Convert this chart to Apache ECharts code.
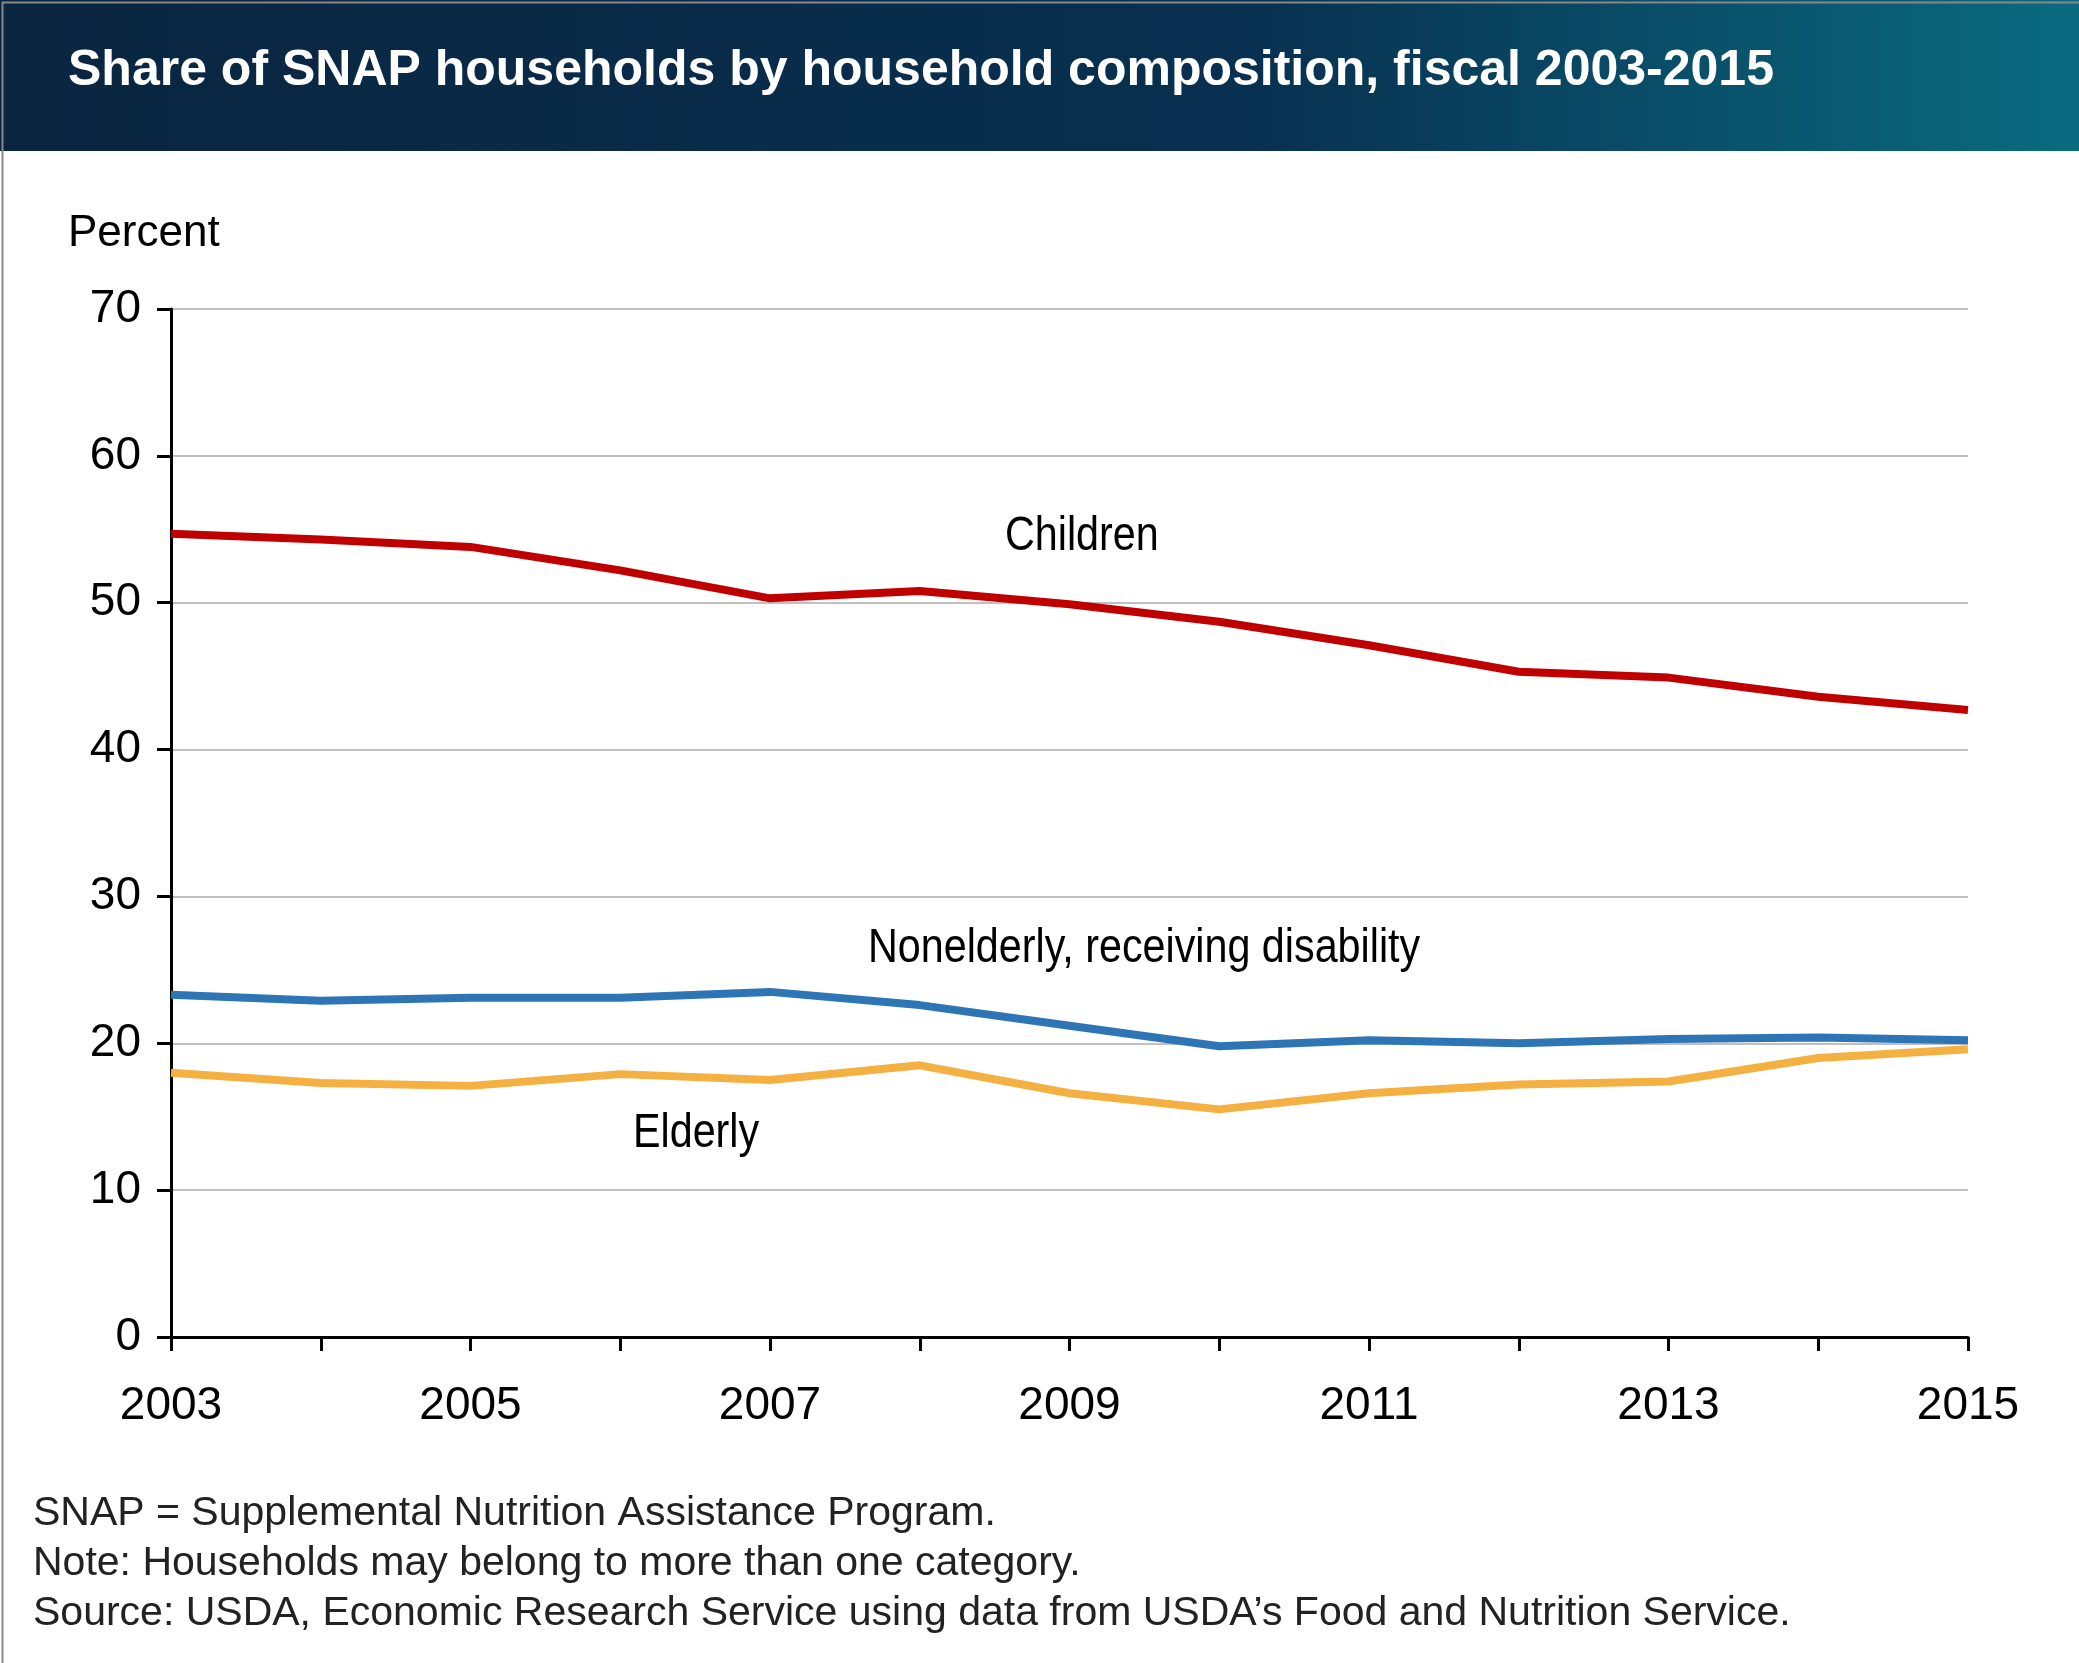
<!DOCTYPE html>
<html><head><meta charset="utf-8">
<script src="https://cdn.jsdelivr.net/npm/echarts@6/dist/echarts.min.js"></script>
<style>html,body{margin:0;padding:0;background:#fff}#c{width:2079px;height:1663px}</style>
</head><body><div id="c"></div>
<script>
const years = ['2003','2004','2005','2006','2007','2008','2009','2010','2011','2012','2013','2014','2015'];
const children = [54.7,54.3,53.8,52.2,50.3,50.8,49.9,48.7,47.1,45.3,44.9,43.6,42.7];
const nonelderly = [23.3,22.9,23.1,23.1,23.5,22.6,21.2,19.8,20.2,20.0,20.3,20.4,20.2];
const elderly = [18.0,17.3,17.1,17.9,17.5,18.5,16.6,15.5,16.6,17.2,17.4,19.0,19.6];
const F = 'Liberation Sans, Arial, sans-serif';
const chart = echarts.init(document.getElementById('c'));
const mk = (name, data, color) => ({name, type:'line', data, symbol:'none', lineStyle:{width:8,color}, itemStyle:{color}});
chart.setOption({
  animation:false,
  grid:{left:171,right:111,top:309,bottom:326},
  xAxis:{type:'category',data:years,boundaryGap:false,
    axisLine:{lineStyle:{color:'#000',width:3}},
    axisTick:{length:14,lineStyle:{color:'#000',width:3},alignWithLabel:true,interval:0},
    axisLabel:{interval:1,color:'#000',fontSize:46,fontFamily:F,margin:46},
    splitLine:{show:false}},
  yAxis:{type:'value',min:0,max:70,interval:10,
    axisLine:{show:true,lineStyle:{color:'#000',width:3}},
    axisTick:{show:true,length:14,lineStyle:{color:'#000',width:3}},
    axisLabel:{color:'#000',fontSize:46,fontFamily:F,margin:30},
    splitLine:{lineStyle:{color:'#c0c0c0',width:2}}},
  series:[mk('Children',children,'#c00000'),mk('Nonelderly',nonelderly,'#2e75b6'),mk('Elderly',elderly,'#f4b040')],
  graphic:[
    {type:'rect',left:0,top:0,shape:{width:2079,height:151},style:{fill:new echarts.graphic.LinearGradient(0,0,1,0,[{offset:0,color:'#0a2540'},{offset:0.6,color:'#083050'},{offset:1,color:'#0a6b80'}])}},
    {type:'rect',left:0,top:0,shape:{width:2078,height:1662},style:{fill:'none',stroke:'#888',lineWidth:2}},
    {type:'text',left:68,top:46,style:{text:'Share of SNAP households by household composition, fiscal 2003-2015',fill:'#fff',font:'bold 50px '+F}},
    {type:'text',left:68,top:212,style:{text:'Percent',fill:'#000',font:'44px '+F}},
    {type:'text',x:1005,y:513,scaleX:0.86,style:{text:'Children',fill:'#000',font:'48px '+F}},
    {type:'text',x:868,y:925,scaleX:0.86,style:{text:'Nonelderly, receiving disability',fill:'#000',font:'48px '+F}},
    {type:'text',x:633,y:1110,scaleX:0.86,style:{text:'Elderly',fill:'#000',font:'48px '+F}},
    {type:'text',left:33,top:1493,style:{text:'SNAP = Supplemental Nutrition Assistance Program.',fill:'#222',font:'41px '+F}},
    {type:'text',left:33,top:1543,style:{text:'Note: Households may belong to more than one category.',fill:'#222',font:'41px '+F}},
    {type:'text',left:33,top:1593,style:{text:'Source: USDA, Economic Research Service using data from USDA\u2019s Food and Nutrition Service.',fill:'#222',font:'41px '+F}}
  ]
});
</script></body></html>
